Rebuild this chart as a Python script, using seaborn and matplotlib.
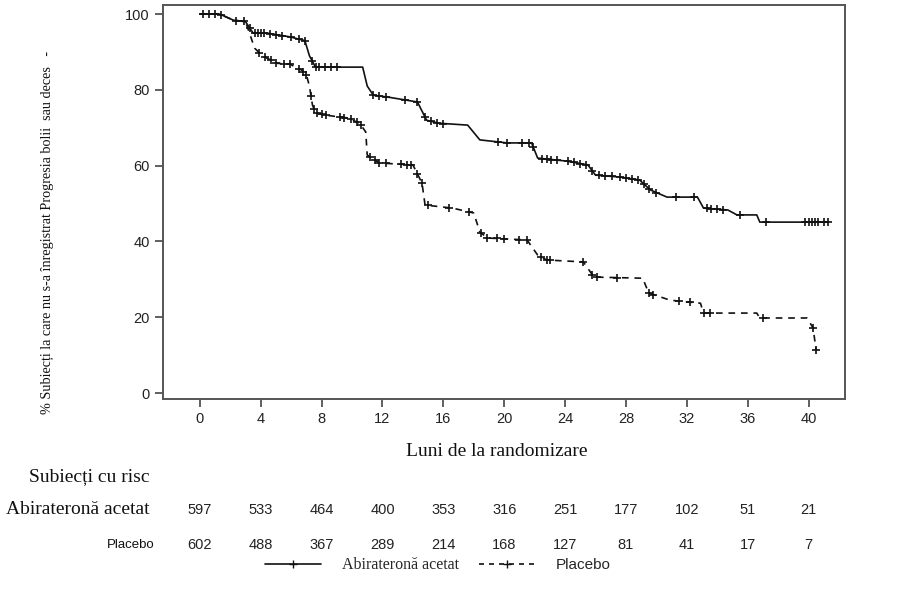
import numpy as np
import pandas as pd
import seaborn as sns
import matplotlib.pyplot as plt
from matplotlib.lines import Line2D

# Curbe Kaplan-Meier (luni, % fara progresie)
abi_t = [0, 1.3, 2.2, 3.0, 3.5, 4.4, 5.9, 6.9, 7.2, 7.6, 10.7, 11.0, 11.4, 12.5, 14.3, 14.9,
         15.7, 17.6, 18.4, 20.2, 21.8, 22.2, 24.1, 25.5, 26.0, 27.6, 28.9, 29.6, 30.7, 32.7,
         33.1, 34.7, 35.3, 36.6, 36.8, 41.3]
abi_s = [100, 100, 98.4, 98, 95, 95, 94, 93, 89, 86, 86, 81, 78.6, 78, 76.8, 72,
         71.2, 70.7, 66.8, 66, 66, 62, 61.2, 60.2, 57.5, 57, 56.2, 53.6, 51.7, 51.7,
         48.8, 48.3, 47, 47, 45.1, 45.1]

pla_t = [0, 1.3, 2.2, 3.0, 3.6, 4.1, 5.1, 5.9, 6.7, 7.0, 7.2, 7.4, 7.6, 8.1, 9.7, 10.5,
         10.9, 11.0, 11.8, 14.0, 14.6, 14.8, 16.6, 18.0, 18.4, 18.9, 21.5, 22.2, 22.8, 25.2,
         25.9, 29.1, 29.5, 30.9, 32.9, 33.1, 36.6, 36.8, 39.9, 40.3, 40.5]
pla_s = [100, 100, 98.4, 98, 91, 89, 87, 86.8, 85.2, 84, 81, 76, 74, 73.4, 72.6, 71.2,
         68.9, 62.8, 60.7, 60.2, 55.4, 49.6, 48.8, 47.5, 42.5, 40.9, 40.4, 36.4, 35.1, 34.6,
         30.6, 30.3, 26.4, 24.5, 23.7, 21.1, 21.1, 19.8, 19.8, 17.2, 11.3]

# Momente cenzurate (luni)
abi_cens = [0.2, 0.6, 1.0, 1.4, 2.4, 2.9, 3.3, 3.6, 3.8, 4.0, 4.2, 4.6, 5.0, 5.4, 6.0, 6.5,
            6.9, 7.4, 7.6, 7.8, 8.2, 8.6, 9.0, 11.4, 11.8, 12.2, 13.5, 14.3, 14.8, 15.2, 15.6,
            16.0, 19.6, 20.2, 21.2, 21.6, 21.9, 22.5, 22.8, 23.1, 23.5, 24.2, 24.6, 25.0, 25.4,
            25.8, 26.2, 26.6, 27.1, 27.6, 28.0, 28.4, 28.8, 29.2, 29.5, 30.0, 31.3, 32.5, 33.3,
            33.6, 34.0, 34.4, 35.5, 37.2, 39.8, 40.0, 40.2, 40.4, 40.6, 41.0, 41.3]
pla_cens = [3.9, 4.3, 4.7, 5.0, 5.5, 5.9, 6.5, 6.8, 7.0, 7.3, 7.5, 7.7, 8.0, 8.3, 9.2, 9.5,
            9.9, 10.3, 10.6, 11.2, 11.5, 11.8, 12.2, 13.2, 13.6, 13.9, 14.3, 14.6, 15.0, 16.4,
            17.7, 18.5, 18.9, 19.5, 20.0, 21.0, 21.5, 22.4, 22.8, 23.0, 25.2, 25.8, 26.1, 27.4,
            29.5, 29.8, 31.5, 32.2, 33.1, 33.5, 37.0, 40.3, 40.5]

# Subiecti cu risc
risk_times = [0, 4, 8, 12, 16, 20, 24, 28, 32, 36, 40]
risk_abi = [597, 533, 464, 400, 353, 316, 251, 177, 102, 51, 21]
risk_pla = [602, 488, 367, 289, 214, 168, 127, 81, 41, 17, 7]

serif = 'Liberation Serif'
sans = 'Liberation Sans'

sns.set_style('ticks')
plt.rcParams['font.family'] = [sans, 'DejaVu Sans']

fig = plt.figure(figsize=(9.1, 5.93), dpi=100)
ax = fig.add_axes([0.179, 0.327, 0.7496, 0.6646])

col = '#111111'
abi_df = pd.DataFrame({'t': abi_t, 's': abi_s})
pla_df = pd.DataFrame({'t': pla_t, 's': pla_s})
sns.lineplot(data=abi_df, x='t', y='s', ax=ax, color=col, lw=1.2, estimator=None, sort=False)
sns.lineplot(data=pla_df, x='t', y='s', ax=ax, color=col, lw=1.2, estimator=None, sort=False,
             linestyle=(0, (4, 3.5)))

cens_abi = pd.DataFrame({'t': abi_cens, 's': np.interp(abi_cens, abi_t, abi_s)})
cens_pla = pd.DataFrame({'t': pla_cens, 's': np.interp(pla_cens, pla_t, pla_s)})
sns.scatterplot(data=cens_abi, x='t', y='s', ax=ax, marker='+', color=col, s=30, linewidth=1.2)
sns.scatterplot(data=cens_pla, x='t', y='s', ax=ax, marker='+', color=col, s=30, linewidth=1.2)

ax.set_xlim(-2.43, 42.4)
ax.set_ylim(-1.6, 102.4)
ax.set_xticks(risk_times)
ax.set_yticks([0, 20, 40, 60, 80, 100])
ax.tick_params(labelsize=10.5, length=6, width=1.2, color='#444444', labelcolor='#222222')
for sp in ax.spines.values():
    sp.set_visible(True)
    sp.set_color('#555555')
    sp.set_linewidth(1.4)
ax.set_xlabel('')
ax.set_ylabel('')

fig.text(497 / 910, 1 - 452 / 593, 'Luni de la randomizare', family=serif, fontsize=14,
         ha='center', va='center', color='#111111')
fig.text(47 / 910, 1 - 232 / 593,
         '% Subiecți la care nu s-a înregistrat Progresia bolii  sau deces   -',
         family=serif, fontsize=10.2, rotation=90, ha='center', va='center', color='#111111')

# Tabel subiecti cu risc
fig.text(150 / 910, 1 - 477 / 593, 'Subiecți cu risc', family=serif, fontsize=14,
         ha='right', va='center', color='#111111')
fig.text(150 / 910, 1 - 510 / 593, 'Abirateronă acetat', family=serif, fontsize=14,
         ha='right', va='center', color='#111111')
fig.text(155 / 910, 1 - 545 / 593, 'Placebo', family=sans, fontsize=9.5,
         ha='right', va='center', color='#111111')
trans = ax.get_xaxis_transform()
for t, a, p in zip(risk_times, risk_abi, risk_pla):
    ax.text(t, (1 - 510 / 593 - 0.327) / 0.6646, str(a), transform=trans, ha='center',
            va='center', fontsize=10.5, color='#222222', clip_on=False)
    ax.text(t, (1 - 545 / 593 - 0.327) / 0.6646, str(p), transform=trans, ha='center',
            va='center', fontsize=10.5, color='#222222', clip_on=False)

handles = [Line2D([], [], color=col, lw=1.2, marker='+', markersize=6),
           Line2D([], [], color=col, lw=1.2, marker='+', markersize=6, linestyle=(0, (3, 3)))]
leg = fig.legend(handles, ['Abirateronă acetat', 'Placebo'], loc='center',
                 bbox_to_anchor=(438 / 910, 1 - 565 / 593), ncol=2, frameon=False,
                 handlelength=4, columnspacing=1.5, handletextpad=1.5, numpoints=1)
leg.get_texts()[0].set_fontfamily(serif)
leg.get_texts()[0].set_fontsize(11.5)
leg.get_texts()[1].set_fontfamily(sans)
leg.get_texts()[1].set_fontsize(11)

fig.savefig('out.png', dpi=100)
